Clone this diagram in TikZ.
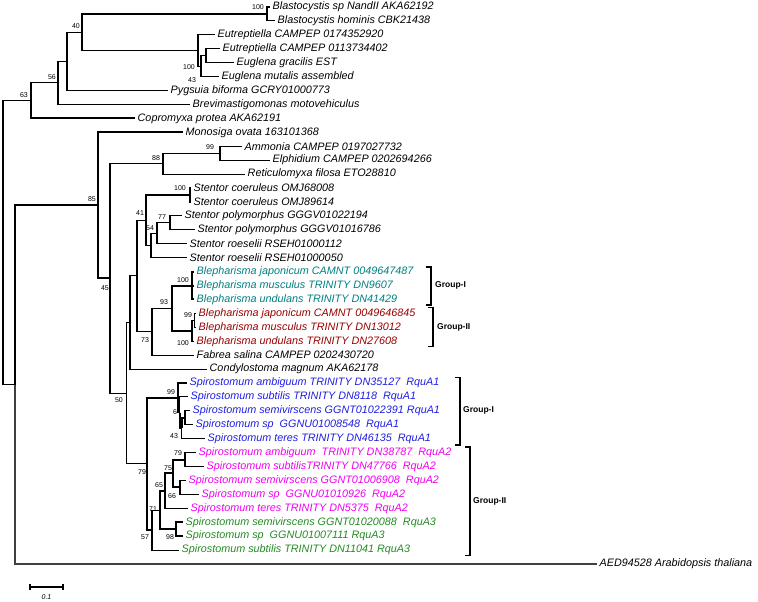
\documentclass[tikz,border=0pt]{standalone}
\usepackage{fontspec}
\setmainfont{Liberation Sans}
\definecolor{tealq}{RGB}{0,128,128}
\definecolor{redq}{RGB}{153,0,0}
\definecolor{blueq}{RGB}{30,30,225}
\definecolor{pinkq}{RGB}{240,0,240}
\definecolor{greenq}{RGB}{34,139,34}
\definecolor{outgray}{RGB}{64,64,64}
\usetikzlibrary{calc}

\begin{document}
\begin{tikzpicture}[
  x=1pt, y=-13.925pt,
  br/.style={line width=1.1pt},
  bbr/.style={line width=2pt},
  outbr/.style={line width=2pt, draw=outgray},
  leaf/.style={anchor=west, inner xsep=2.5pt, inner ysep=0pt, font=\fontsize{10.8}{12}\selectfont\itshape},
  bs/.style={inner sep=0pt, font=\fontsize{7}{8}\selectfont},
  grp/.style={line width=1.2pt},
  grplab/.style={anchor=west, inner sep=0pt, font=\fontsize{8.5}{10}\selectfont\bfseries}
]
  \useasboundingbox (0,0.497) rectangle (758,43.66);

  \node[leaf] (bla1) at (270,1) {Blastocystis sp NandII AKA62192};
  \node[leaf] (bla2) at (275,2) {Blastocystis hominis CBK21438};
  \node[leaf] (eut1) at (215,3) {Eutreptiella CAMPEP 0174352920};
  \node[leaf] (eut2) at (220,4) {Eutreptiella CAMPEP 0113734402};
  \node[leaf] (eugr) at (234,5) {Euglena gracilis EST};
  \node[leaf] (eumu) at (219,6) {Euglena mutalis assembled};
  \node[leaf] (pyg) at (168,7) {Pygsuia biforma GCRY01000773};
  \node[leaf] (brev) at (190,8) {Brevimastigomonas motovehiculus};
  \node[leaf] (copro) at (135,9) {Copromyxa protea AKA62191};
  \node[leaf] (mono) at (183,10) {Monosiga ovata 163101368};
  \node[leaf] (ammo) at (242,11) {Ammonia CAMPEP 0197027732};
  \node[leaf] (elph) at (270,12) {Elphidium CAMPEP 0202694266};
  \node[leaf] (reti) at (245,13) {Reticulomyxa filosa ETO28810};
  \node[leaf] (stc1) at (191,14) {Stentor coeruleus OMJ68008};
  \node[leaf] (stc2) at (191,15) {Stentor coeruleus OMJ89614};
  \node[leaf] (stp1) at (182,16) {Stentor polymorphus GGGV01022194};
  \node[leaf] (stp2) at (195,17) {Stentor polymorphus GGGV01016786};
  \node[leaf] (str1) at (187,18) {Stentor roeselii RSEH01000112};
  \node[leaf] (str2) at (187,19) {Stentor roeselii RSEH01000050};
  \node[leaf, text=tealq] (bj1) at (194,20) {Blepharisma japonicum CAMNT 0049647487};
  \node[leaf, text=tealq] (bm1) at (194,21) {Blepharisma musculus TRINITY DN9607};
  \node[leaf, text=tealq] (bu1) at (194,22) {Blepharisma undulans TRINITY DN41429};
  \node[leaf, text=redq] (bj2) at (196,23) {Blepharisma japonicum CAMNT 0049646845};
  \node[leaf, text=redq] (bm2) at (196,24) {Blepharisma musculus TRINITY DN13012};
  \node[leaf, text=redq] (bu2) at (194,25) {Blepharisma undulans TRINITY DN27608};
  \node[leaf] (fab) at (194,26) {Fabrea salina CAMPEP 0202430720};
  \node[leaf] (cond) at (207,27) {Condylostoma magnum AKA62178};
  \node[leaf, text=blueq] (sa1) at (187,28) {Spirostomum ambiguum TRINITY DN35127~ RquA1};
  \node[leaf, text=blueq] (ss1) at (188,29) {Spirostomum subtilis TRINITY DN8118~ RquA1};
  \node[leaf, text=blueq] (sv1) at (190,30) {Spirostomum semivirscens GGNT01022391 RquA1};
  \node[leaf, text=blueq] (sp1) at (193,31) {Spirostomum sp~ GGNU01008548~ RquA1};
  \node[leaf, text=blueq] (st1) at (205,32) {Spirostomum teres TRINITY DN46135~ RquA1};
  \node[leaf, text=pinkq] (sa2) at (196,33) {Spirostomum ambiguum~ TRINITY DN38787~ RquA2};
  \node[leaf, text=pinkq] (ss2) at (204,34) {Spirostomum subtilisTRINITY DN47766~ RquA2};
  \node[leaf, text=pinkq] (sv2) at (186,35) {Spirostomum semivirscens GGNT01006908~ RquA2};
  \node[leaf, text=pinkq] (sp2) at (199,36) {Spirostomum sp~ GGNU01010926~ RquA2};
  \node[leaf, text=pinkq] (st2) at (188,37) {Spirostomum teres TRINITY DN5375~ RquA2};
  \node[leaf, text=greenq] (sv3) at (183,38) {Spirostomum semivirscens GGNT01020088~ RquA3};
  \node[leaf, text=greenq] (sp3) at (183,39) {Spirostomum sp~ GGNU01007111 RquA3};
  \node[leaf, text=greenq] (ss3) at (179,40) {Spirostomum subtilis TRINITY DN11041 RquA3};
  \node[leaf] (arab) at (597,41) {AED94528 Arabidopsis thaliana};

  \coordinate (root) at (3,17.93);
  \coordinate (nout) at (15,28.12);
  \coordinate (n63) at (31,7.73);
  \coordinate (n56) at (58,6.45);
  \coordinate (npyg) at (67,4.91);
  \coordinate (n40) at (82,2.81);
  \coordinate (nbla) at (267,1.5);
  \coordinate (neug) at (198,4.125);
  \coordinate (na) at (201,5.25);
  \coordinate (nb) at (206,4.5);
  \coordinate (n85) at (98,15.25);
  \coordinate (n45) at (110,20.49);
  \coordinate (n88) at (163,12.25);
  \coordinate (n99a) at (220,11.5);
  \coordinate (n50) at (126.5,28.74);
  \coordinate (nsc) at (130,23.66);
  \coordinate (nsb) at (137,20.31);
  \coordinate (n41) at (146,16.31);
  \coordinate (nstc) at (190,14.5);
  \coordinate (nsu) at (151,18.125);
  \coordinate (n54) at (157,17.25);
  \coordinate (n77) at (170,16.5);
  \coordinate (n73) at (152,24.31);
  \coordinate (n93) at (172,22.625);
  \coordinate (ng1) at (192,21);
  \coordinate (ng2) at (192,24.25);
  \coordinate (n99b) at (194.5,23.5);
  \coordinate (n79) at (147,33.81);
  \coordinate (n99s) at (178,29.06);
  \coordinate (nsy) at (179.5,30.125);
  \coordinate (n43) at (181.5,31.25);
  \coordinate (n6x) at (185,30.5);
  \coordinate (n57) at (152,38.56);
  \coordinate (n71) at (160,37.125);
  \coordinate (n65) at (165,35.75);
  \coordinate (n75) at (173,34.5);
  \coordinate (n79b) at (185,33.5);
  \coordinate (n66) at (180,35.5);
  \coordinate (n98) at (176,38.5);

  \draw[br] (root) |- (n63);
  \draw[br] (root) |- (nout);
  \draw[br] (n63) |- (n56);
  \draw[bbr] (n63) |- (copro.west);
  \draw[br] (n56) |- (npyg);
  \draw[br] (n56) |- (brev.west);
  \draw[br] (npyg) |- (n40);
  \draw[br] (npyg) |- (pyg.west);
  \draw[br] (n40) |- (nbla);
  \draw[br] (n40) |- (neug);
  \draw[br] (nbla) |- (bla1.west);
  \draw[br] (nbla) |- (bla2.west);
  \draw[br] (neug) |- (eut1.west);
  \draw[br] (neug) |- (na);
  \draw[br] (na) |- (nb);
  \draw[br] (na) |- (eumu.west);
  \draw[br] (nb) |- (eut2.west);
  \draw[br] (nb) |- (eugr.west);

  \draw[bbr] (nout) |- (n85);
  \draw[outbr] (nout) |- (arab.west);
  \draw[bbr] (n85) |- (mono.west);
  \draw[bbr] (n85) |- (n45);
  \draw[br] (n45) |- (n88);
  \draw[br] (n45) |- (n50);
  \draw[br] (n88) |- (n99a);
  \draw[br] (n88) |- (reti.west);
  \draw[br] (n99a) |- (ammo.west);
  \draw[br] (n99a) |- (elph.west);

  \draw[br] (n50) |- (nsc);
  \draw[br] (n50) |- (n79);
  \draw[br] (nsc) |- (nsb);
  \draw[br] (nsc) |- (cond.west);
  \draw[br] (nsb) |- (n41);
  \draw[br] (nsb) |- (n73);
  \draw[bbr] (n41) |- (nstc);
  \draw[br] (n41) |- (nsu);
  \draw[br] (nstc) |- (stc1.west);
  \draw[br] (nstc) |- (stc2.west);
  \draw[br] (nsu) |- (n54);
  \draw[br] (nsu) |- (str2.west);
  \draw[br] (n54) |- (n77);
  \draw[br] (n54) |- (str1.west);
  \draw[br] (n77) |- (stp1.west);
  \draw[br] (n77) |- (stp2.west);
  \draw[br] (n73) |- (n93);
  \draw[br] (n73) |- (fab.west);
  \draw[bbr] (n93) |- (ng1);
  \draw[bbr] (n93) |- (ng2);
  \draw[bbr] (ng1) |- (bj1.west);
  \draw[bbr] (ng1) |- (bm1.west);
  \draw[bbr] (ng1) |- (bu1.west);
  \draw[br] (ng2) |- (n99b);
  \draw[br] (ng2) |- (bu2.west);
  \draw[br] (n99b) |- (bj2.west);
  \draw[br] (n99b) |- (bm2.west);

  \draw[bbr] (n79) |- (n99s);
  \draw[bbr] (n79) |- (n57);
  \draw[br] (n99s) |- (sa1.west);
  \draw[br] (n99s) |- (nsy);
  \draw[br] (nsy) |- (ss1.west);
  \draw[bbr] (nsy) |- (n43);
  \draw[bbr] (n43) |- (n6x);
  \draw[br] (n43) |- (st1.west);
  \draw[br] (n6x) |- (sv1.west);
  \draw[br] (n6x) |- (sp1.west);
  \draw[br] (n57) |- (n71);
  \draw[br] (n57) |- (ss3.west);
  \draw[bbr] (n71) |- (n65);
  \draw[bbr] (n71) |- (n98);
  \draw[bbr] (n65) |- (n75);
  \draw[br] (n65) |- (st2.west);
  \draw[bbr] (n75) |- (n79b);
  \draw[bbr] (n75) |- (n66);
  \draw[br] (n79b) |- (sa2.west);
  \draw[br] (n79b) |- (ss2.west);
  \draw[br] (n66) |- (sv2.west);
  \draw[br] (n66) |- (sp2.west);
  \draw[bbr] (n98) |- (sv3.west);
  \draw[bbr] (n98) |- (sp3.west);

  \node[bs] (bsBla) at (258,1.0) {100};
  \node[bs] (bs40) at (76,2.36) {40};
  \node[bs] (bsEuA) at (189,5.31) {100};
  \node[bs] (bsEuB) at (192,6.24) {43};
  \node[bs] (bs56) at (52,6.03) {56};
  \node[bs] (bs63) at (24,7.32) {63};
  \node[bs] (bsAmm) at (210,11.05) {99};
  \node[bs] (bs88) at (156,11.84) {88};
  \node[bs] (bs85) at (92,14.79) {85};
  \node[bs] (bsStc) at (180,14.0) {100};
  \node[bs] (bs41) at (140,15.79) {41};
  \node[bs] (bs77) at (162,16.08) {77};
  \node[bs] (bs54) at (150,16.87) {54};
  \node[bs] (bs45) at (105,21.18) {45};
  \node[bs] (bsG1) at (183,20.6) {100};
  \node[bs] (bs93) at (164,22.18) {93};
  \node[bs] (bsG2a) at (188,23.12) {99};
  \node[bs] (bsG2b) at (183,25.1) {100};
  \node[bs] (bs73) at (145,24.91) {73};
  \node[bs] (bs50) at (119,29.22) {50};
  \node[bs] (bsS99) at (171,28.65) {99};
  \node[bs] (bsS6) at (175,30.08) {6};
  \node[bs] (bsS43) at (174,31.81) {43};
  \node[bs] (bs79) at (142,34.39) {79};
  \node[bs] (bsS79) at (178,33.03) {79};
  \node[bs] (bs75) at (168,34.11) {75};
  \node[bs] (bs65) at (159,35.33) {65};
  \node[bs] (bs66) at (172,36.12) {66};
  \node[bs] (bs71) at (153,37.06) {71};
  \node[bs] (bs57) at (145,39.06) {57};
  \node[bs] (bs98) at (170,39.06) {98};

  \coordinate (g1t) at (431,19.67);
  \coordinate (g1b) at (431,22.4);
  \coordinate (g2t) at (433,22.6);
  \coordinate (g2b) at (433,25.4);
  \coordinate (g3t) at (460,27.6);
  \coordinate (g3b) at (460,32.45);
  \coordinate (g4t) at (470,32.6);
  \coordinate (g4b) at (470,40.4);
  \draw[grp] ([xshift=-5pt]g1t) -- (g1t) -- (g1b) -- ([xshift=-5pt]g1b);
  \draw[grp] ([xshift=-5pt]g2t) -- (g2t) -- (g2b) -- ([xshift=-5pt]g2b);
  \draw[grp] ([xshift=-5pt]g3t) -- (g3t) -- (g3b) -- ([xshift=-5pt]g3b);
  \draw[grp] ([xshift=-5pt]g4t) -- (g4t) -- (g4b) -- ([xshift=-5pt]g4b);
  \node[grplab] (grpBI) at (435,21) {Group-I};
  \node[grplab] (grpBII) at (437,24) {Group-II};
  \node[grplab] (grpSI) at (463,30.0) {Group-I};
  \node[grplab] (grpSII) at (473,36.5) {Group-II};

  \coordinate (sb1) at (30,42.65);
  \coordinate (sb2) at (63,42.65);
  \draw[br] (sb1) -- (sb2);
  \draw[br] ([yshift=3pt]sb1) -- ([yshift=-3pt]sb1);
  \draw[br] ([yshift=3pt]sb2) -- ([yshift=-3pt]sb2);
  \node[bs, font=\fontsize{7}{8}\selectfont\itshape] (sbl) at (46.5,43.37) {0.1};
\end{tikzpicture}
\end{document}
